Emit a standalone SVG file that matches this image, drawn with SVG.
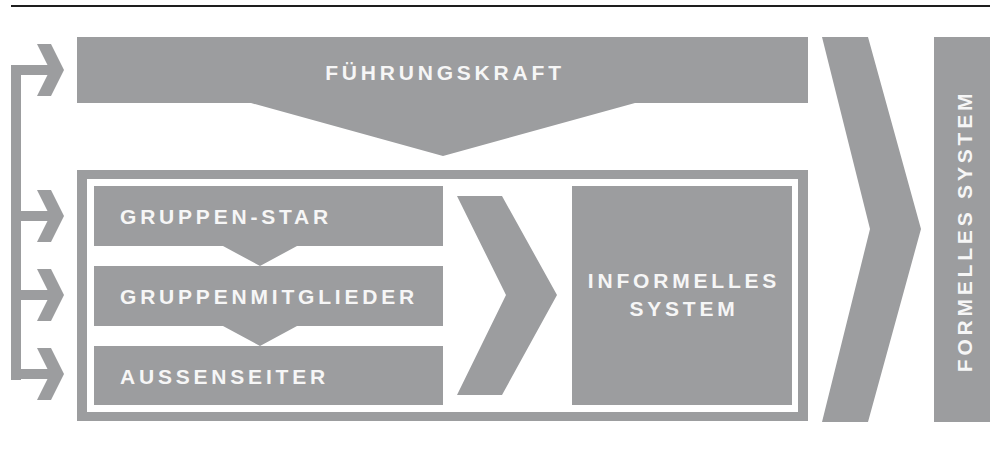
<svg xmlns="http://www.w3.org/2000/svg" width="990" height="454" viewBox="0 0 990 454">
  <style>
    .fill { fill: #9c9d9f; }
    .label { fill: #f6f6f6; font-family: "Liberation Sans", Arial, sans-serif; font-weight: bold; font-size: 21px; letter-spacing: 3.8px; }
  </style>
  <defs>
    <!-- small entry chevron, centred on its tip row -->
    <polygon id="entry" points="37,-26 51,-26 64,0 51,26 37,26 50,0"/>
  </defs>

  <rect x="0" y="0" width="990" height="454" fill="#ffffff"/>

  <!-- rule at the top -->
  <line x1="11" y1="6" x2="990" y2="6" stroke="#1e1e1e" stroke-width="1.8"/>

  <g id="fuehrungskraft">
    <polygon class="fill" points="77,37 808,37 808,103 635,103 443,156 251,103 77,103"/>
    <text class="label" x="445" y="80" text-anchor="middle">FÜHRUNGSKRAFT</text>
  </g>

  <g id="gruppe-rahmen">
    <rect class="fill" x="77" y="170" width="731" height="251"/>
    <rect x="87" y="179" width="711" height="233" fill="#ffffff"/>
  </g>

  <g id="gruppen-star">
    <polygon class="fill" points="94,186 443,186 443,246 297,246 260,266 223,246 94,246"/>
    <text class="label" x="120" y="224">GRUPPEN-STAR</text>
  </g>

  <g id="gruppenmitglieder">
    <polygon class="fill" points="94,266 443,266 443,326 297,326 260,346 223,326 94,326"/>
    <text class="label" x="120" y="304">GRUPPENMITGLIEDER</text>
  </g>

  <g id="aussenseiter">
    <rect class="fill" x="94" y="346" width="349" height="59"/>
    <text class="label" x="120" y="384">AUSSENSEITER</text>
  </g>

  <g id="informelles-system">
    <rect class="fill" x="572" y="186" width="220" height="219"/>
    <text class="label" x="684" y="288" text-anchor="middle">INFORMELLES</text>
    <text class="label" x="684" y="316" text-anchor="middle">SYSTEM</text>
  </g>

  <g id="formelles-system">
    <rect class="fill" x="934" y="37" width="56" height="385"/>
    <text class="label" transform="translate(972,231) rotate(-90)" x="0" y="0" text-anchor="middle">FORMELLES SYSTEM</text>
  </g>

  <g id="connectors" class="fill">
    <!-- feedback bracket on the left -->
    <rect x="11" y="65" width="10" height="315"/>
    <rect x="11" y="65" width="44" height="10"/>
    <rect x="11" y="211" width="44" height="10"/>
    <rect x="11" y="290" width="44" height="10"/>
    <rect x="11" y="369" width="44" height="10"/>
    <use href="#entry" y="70"/>
    <use href="#entry" y="216"/>
    <use href="#entry" y="295"/>
    <use href="#entry" y="374"/>
    <!-- group members feed the informal system -->
    <polygon points="457,196 502,196 557,295 502,395 457,395 506,295"/>
    <!-- everything feeds the formal system -->
    <polygon points="822,37 868,37 921,229 868,422 822,422 870,229"/>
  </g>
</svg>
